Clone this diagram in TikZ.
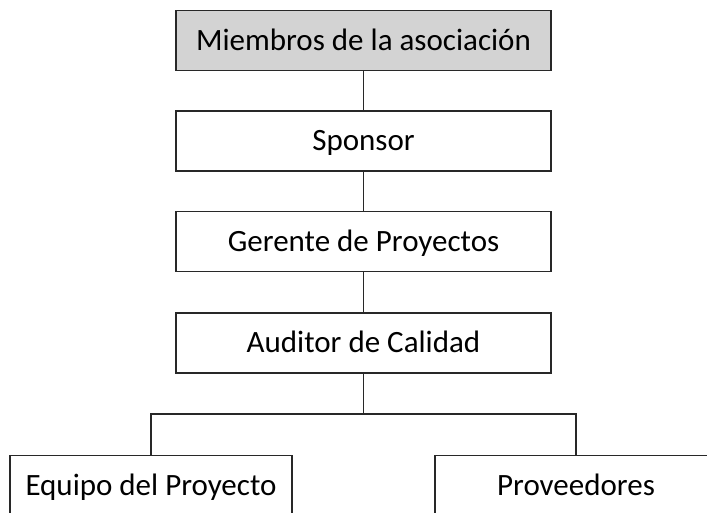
\documentclass[tikz,border=0pt]{standalone}
\usepackage{fontspec}
\setmainfont{Carlito}
\usepackage{tikz}
\pgfdeclarelayer{bg}
\pgfsetlayers{bg,main}
\definecolor{headgray}{RGB}{211,211,211}
\definecolor{linegray}{RGB}{40,40,40}
\tikzset{
  rolebox/.style={draw=linegray, line width=1.5pt, fill=white, inner sep=0pt,
    minimum width=375pt, minimum height=60pt, text height=26.4pt, text depth=7pt,
    font=\fontsize{31}{37}\selectfont},
  teambox/.style={rolebox, minimum width=282pt},
  link/.style={draw=linegray, line width=1.3pt}
}

\begin{document}
\begin{tikzpicture}[x=1pt, y=-1pt]
        \useasboundingbox (0,0) rectangle (707,512);
        \clip (0,0) rectangle (707,512);
        \node (assoc) [rolebox, fill=headgray] at (363.5, 40.3) {Miembros de la asociación};
        \node (sponsor) [rolebox] at (363.5, 141) {Sponsor};
        \node (manager) [rolebox] at (363.5, 241.5) {Gerente de Proyectos};
        \node (auditor) [rolebox] at (363.5, 343) {Auditor de Calidad};
        \node (team) [teambox] at (151, 485.5) {Equipo del Proyecto};
        \node (suppliers) [teambox] at (576, 485.5) {Proveedores};
        \coordinate (split) at (363.5, 414);
        \begin{pgfonlayer}{bg}
                \draw (assoc) edge [link] (sponsor);
                \draw (sponsor) edge [link] (manager);
                \draw (manager) edge [link] (auditor);
                \draw (auditor) edge [link] (split);
                \draw [link] (split) -| (team.north);
                \draw [link] (split) -| (suppliers.north);
        \end{pgfonlayer}
\end{tikzpicture}
\end{document}
